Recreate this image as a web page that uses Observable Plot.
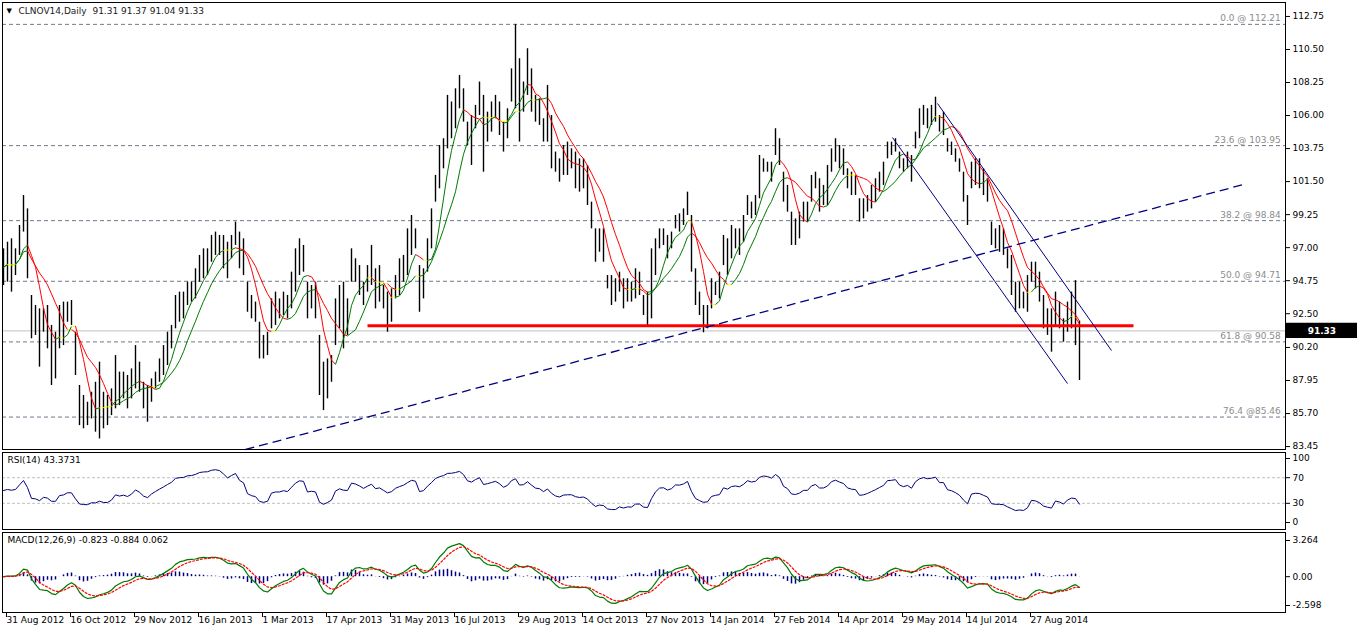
<!DOCTYPE html>
<html><head><meta charset="utf-8">
<script src="https://cdn.jsdelivr.net/npm/d3@7"></script>
<script src="https://cdn.jsdelivr.net/npm/@observablehq/plot@0.6"></script>
<style>
body{margin:0;background:#fff;}
#wrap{position:relative;width:1362px;height:630px;overflow:hidden;background:#fff;}
#wrap svg{position:absolute;left:0;overflow:visible;}
</style></head><body><div id="wrap"></div>
<script>
// Each bar = 2 trading days
const high=[96.92,97.37,97.60,96.92,98.51,100.55,99.64,93.74,93.06,92.83,92.83,93.06,91.70,91.24,93.06,93.29,93.29,93.40,91.24,87.61,
86.93,86.47,87.15,87.83,89.20,87.15,86.93,87.38,89.65,88.52,88.52,88.29,88.74,90.33,89.20,87.83,87.61,88.06,88.52,89.42,
90.33,91.24,91.70,93.74,93.97,93.97,94.65,94.65,95.56,96.47,96.92,96.92,97.83,98.06,97.83,97.83,97.37,97.83,98.74,98.06,
97.60,94.65,93.74,93.29,91.92,91.02,91.24,93.51,93.97,93.51,93.97,93.74,95.33,96.92,97.60,97.15,94.65,94.42,94.65,91.02,
89.20,89.42,89.65,93.51,94.42,94.65,93.51,96.92,96.24,95.78,94.65,95.78,97.15,95.56,95.78,94.42,93.97,94.19,95.10,96.24,
96.47,98.28,99.19,98.28,95.78,95.56,97.60,99.64,101.92,103.96,104.42,107.37,106.92,107.82,108.73,107.82,105.55,106.00,106.69,108.28,
107.37,106.23,106.92,107.37,106.92,105.55,106.46,109.18,112.21,109.87,108.28,110.55,109.18,107.37,107.14,105.78,108.05,106.00,103.51,103.05,
103.96,104.19,103.73,103.51,103.05,103.05,102.60,100.10,98.28,98.28,98.28,95.10,95.10,94.88,95.33,94.88,94.88,94.65,95.56,95.33,
93.74,93.97,96.92,97.60,98.28,98.28,97.83,98.06,99.19,99.30,99.64,100.78,99.19,95.56,93.97,93.06,93.06,94.88,94.65,95.33,
97.83,97.60,98.51,98.28,98.28,99.19,100.55,100.10,100.55,103.28,103.05,102.82,102.82,105.10,104.42,102.14,101.24,99.42,98.96,99.42,
100.10,100.10,101.92,102.14,101.69,101.24,102.60,103.73,104.42,103.96,103.73,102.37,102.14,101.92,100.33,100.33,100.55,101.24,101.69,102.14,
102.82,104.19,104.19,104.42,103.51,103.05,103.51,103.28,104.87,106.46,106.69,106.46,106.69,107.25,106.00,106.23,104.42,104.19,103.73,103.05,
102.14,100.55,102.82,103.05,103.05,102.37,101.69,98.74,98.28,98.51,98.28,96.92,96.47,94.65,94.65,93.97,95.10,96.01,96.01,95.33,
93.74,92.83,92.83,93.97,93.29,92.15,93.29,93.97,94.75,92.00];
const low=[94.42,94.65,93.97,95.10,96.47,98.06,94.88,90.79,91.02,88.86,91.24,90.11,87.61,88.06,90.11,90.33,91.92,91.70,88.29,84.88,
84.66,84.88,85.33,84.43,83.97,84.66,84.88,85.56,86.02,86.24,86.70,86.02,86.70,87.38,87.15,86.02,85.11,86.47,87.38,87.83,
88.29,88.97,90.11,91.47,91.92,92.15,93.06,93.29,93.51,94.65,94.88,95.10,96.01,96.47,96.47,95.56,94.88,96.24,97.15,95.56,
95.10,92.60,92.15,91.92,89.42,89.42,89.65,91.47,91.70,92.15,92.38,92.15,92.83,93.97,95.10,95.33,92.15,92.83,92.15,86.93,
85.90,86.70,87.83,90.33,91.47,90.11,91.02,94.65,94.65,93.74,93.06,93.97,94.42,92.83,93.29,92.83,91.24,91.92,93.51,93.74,
94.65,95.10,96.47,96.92,92.60,93.51,95.33,96.92,100.10,101.01,102.37,103.73,104.42,105.10,106.46,105.55,103.96,102.60,105.10,106.00,
102.14,104.19,104.87,105.78,104.64,103.51,104.42,106.92,106.46,104.19,106.23,107.37,106.23,105.55,105.33,104.19,104.19,102.37,102.14,101.46,
101.92,101.92,102.37,101.01,100.78,101.01,99.87,98.28,96.01,96.69,96.01,94.19,93.06,93.29,93.97,92.83,93.29,93.29,93.51,93.74,
92.38,91.58,92.15,95.10,96.92,97.15,96.24,96.92,98.28,98.06,98.51,99.19,95.33,93.06,92.38,91.20,91.47,92.83,93.74,93.51,
95.78,95.10,96.24,96.92,96.47,97.37,99.19,98.96,99.19,100.33,102.14,102.14,101.46,103.28,102.60,100.10,99.42,97.15,97.15,97.60,
98.74,98.74,100.10,101.01,99.42,99.87,99.87,102.14,102.82,102.37,101.92,101.01,100.55,100.55,98.74,98.96,99.42,99.64,100.10,100.78,
101.24,103.05,103.28,103.51,102.37,102.14,102.37,101.46,103.73,104.42,105.33,105.10,105.33,105.55,104.87,104.64,103.51,103.28,102.82,102.14,
100.10,98.51,101.01,101.24,101.01,100.55,100.10,97.15,96.92,96.69,96.47,95.56,93.74,92.60,92.83,92.83,92.60,94.65,94.19,93.29,
91.47,91.02,89.88,91.70,91.47,90.56,91.24,91.47,90.33,87.95];

const titleText="CLNOV14,Daily  91.31 91.37 91.04 91.33";
const rsiTitle="RSI(14) 43.3731";
const macdTitle="MACD(12,26,9) -0.823 -0.884 0.062";
const dateLabels=["31 Aug 2012","16 Oct 2012","29 Nov 2012","16 Jan 2013","1 Mar 2013","17 Apr 2013","31 May 2013","16 Jul 2013","29 Aug 2013","14 Oct 2013","27 Nov 2013","14 Jan 2014","27 Feb 2014","14 Apr 2014","29 May 2014","14 Jul 2014","27 Aug 2014"];
const dateTickBars=[0,16,32,48,64,80,96,112,128,144,160,176,192,208,224,240,256];
const priceTicks=[112.75,110.50,108.25,106.00,103.75,101.50,99.25,97.00,94.75,92.50,90.20,87.95,85.70,83.45];
const fibLevels=[112.21,103.95,98.84,94.71,90.58,85.46];
const fibLabels=["0.0 @ 112.21","23.6 @ 103.95","38.2 @ 98.84","50.0 @ 94.71","61.8 @ 90.58","76.4 @85.46"];
const lastPrice=91.33;
const supportLine=[{x1:91,x2:282.5,y:91.68}];
const dashedTrend=[{x1:60.5,y1:83.25,x2:310,y2:101.30}];
const channelLines=[{x1:222.25,y1:104.5,x2:266,y2:87.74},{x1:233.5,y1:106.82,x2:277,y2:89.99}];
const rsiTicks=[100,70,30,0];
const rsiLevels=[70,30];
const macdTicks=[3.264,0,-2.598];

const FONT="DejaVu Sans, sans-serif";
const W=1362, ML=2, MR=77;
const xOpt={domain:[-0.25,320.5]};
const bars=high.map((h,i)=>({i,h,l:low[i],m:(h+low[i])/2}));
const mid=bars.map(d=>d.m);

function sma(arr,n){return arr.map((_,i)=>d3.mean(arr.slice(Math.max(0,i-n+1),i+1)));}
function segs(ma,eps){const s=[];for(let i=0;i<ma.length-1;i++){const d=ma[i+1]-ma[i];s.push({x1:i,x2:i+1,y1:ma[i],y2:ma[i+1],c:d>eps?"#007a00":(d<-eps?"#ff0000":"#ffff00")});}return s;}
function ema(arr,n){const a=2/(n+1);const out=[];let e=arr[0];for(const v of arr){e=e+a*(v-e);out.push(e);}return out;}
function rsi(arr,n){
  const ch=arr.slice(1).map((v,i)=>Math.abs(v-arr[i]));
  let ag=d3.mean(ch)/2, al=ag; const out=[50];
  for(let i=1;i<arr.length;i++){const d=arr[i]-arr[i-1];const g=Math.max(d,0),l=Math.max(-d,0);
    ag=(ag*(n-1)+g)/n; al=(al*(n-1)+l)/n; out.push(100-100/(1+ag/al));}
  return out;
}

const maFast=segs(sma(mid,5),0.06), maSlow=segs(sma(mid,10),0.04);
const rsiVals=rsi(mid,12).map((v,i)=>({i,v}));
const e1=ema(mid,6), e2=ema(mid,13);
const macdMain=e1.map((v,i)=>v-e2[i]);
const macdSig=ema(macdMain,4.5);
const macdData=macdMain.map((v,i)=>({i,m:v,s:macdSig[i],h:v-macdSig[i]}));

const wrap=document.getElementById("wrap");
function place(svg,top){svg.style.top=top+"px";wrap.appendChild(svg);}

// main price panel
const main=Plot.plot({
  width:W,height:451,marginLeft:ML,marginRight:MR,marginTop:2,marginBottom:2,
  style:{fontFamily:FONT,fontSize:"9px",background:"white",color:"black"},
  x:{...xOpt,axis:null},
  y:{domain:[83.25,113.70],axis:null},
  color:{type:"identity"},
  marks:[
    Plot.ruleY(fibLevels,{stroke:"#6e7b8b",strokeDasharray:"4,3"}),
    Plot.ruleY([lastPrice],{stroke:"#c0c0c0"}),
    Plot.ruleX(bars,{x:"i",y1:"l",y2:"h",stroke:"black",strokeWidth:1.4}),
    Plot.link(maSlow,{x1:"x1",y1:"y1",x2:"x2",y2:"y2",stroke:"c",strokeWidth:1}),
    Plot.link(maFast,{x1:"x1",y1:"y1",x2:"x2",y2:"y2",stroke:"c",strokeWidth:1}),
    Plot.link(supportLine,{x1:"x1",x2:"x2",y1:"y",y2:"y",stroke:"#ff0000",strokeWidth:3}),
    Plot.link(dashedTrend,{x1:"x1",y1:"y1",x2:"x2",y2:"y2",stroke:"#000080",strokeWidth:1.3,strokeDasharray:"9,5"}),
    Plot.link(channelLines,{x1:"x1",y1:"y1",x2:"x2",y2:"y2",stroke:"#000080",strokeWidth:1}),
    Plot.text(fibLevels,{x:319.3,y:d=>d,text:(d,i)=>fibLabels[i],textAnchor:"end",dy:-6,fill:"#8c8c8c",fontSize:9}),
    Plot.axisY(priceTicks,{anchor:"right",label:null,tickFormat:d=>d.toFixed(2),tickSize:4,tickPadding:3,fontSize:9}),
    Plot.rect([lastPrice],{x1:320.75,x2:338.5,y1:d=>d-0.52,y2:d=>d+0.52,fill:"black"}),
    Plot.text([lastPrice],{x:329.6,y:d=>d,text:d=>d.toFixed(2),fill:"white",fontWeight:"bold",fontSize:9}),
    Plot.text([titleText],{frameAnchor:"top-left",dx:16,dy:5,textAnchor:"start",fontSize:9,fill:"#1a1a1a"}),
    Plot.text(["\u25BC"],{frameAnchor:"top-left",dx:4,dy:6,textAnchor:"start",fontSize:7,fill:"black"}),
    Plot.frame({stroke:"black"})
  ]
});
place(main,0);

// RSI panel
const rsiPlot=Plot.plot({
  width:W,height:80,marginLeft:ML,marginRight:MR,marginTop:1,marginBottom:2,
  style:{fontFamily:FONT,fontSize:"9px",background:"white",color:"black"},
  x:{...xOpt,axis:null},
  y:{domain:[-10.9,109.4],axis:null},
  marks:[
    Plot.ruleY(rsiLevels,{stroke:"#c0c0c0",strokeDasharray:"3,2"}),
    Plot.line(rsiVals,{x:"i",y:"v",stroke:"#000080",strokeWidth:1}),
    Plot.axisY(rsiTicks,{anchor:"right",label:null,tickSize:4,tickPadding:3,fontSize:9}),
    Plot.text([rsiTitle],{frameAnchor:"top-left",dx:5,dy:4,textAnchor:"start",fontSize:9}),
    Plot.frame({stroke:"black"})
  ]
});
place(rsiPlot,451);

// MACD panel
const macdPlot=Plot.plot({
  width:W,height:99,marginLeft:ML,marginRight:MR,marginTop:1,marginBottom:18,
  style:{fontFamily:FONT,fontSize:"9px",background:"white",color:"black"},
  x:{...xOpt,axis:null},
  y:{domain:[-3.229,3.985],axis:null},
  marks:[
    Plot.ruleX(macdData,{x:"i",y1:0,y2:"h",stroke:"#000080",strokeWidth:1.5,clip:true}),
    Plot.line(macdData,{x:"i",y:"m",stroke:"#007a00",strokeWidth:1.2,clip:true}),
    Plot.line(macdData,{x:"i",y:"s",stroke:"#ff0000",strokeWidth:1.2,strokeDasharray:"2,2",clip:true}),
    Plot.axisY(macdTicks,{anchor:"right",label:null,tickFormat:d=>d===0?"0.00":String(d),tickSize:4,tickPadding:3,fontSize:9}),
    Plot.axisX(dateTickBars,{anchor:"bottom",label:null,tickFormat:(d,i)=>dateLabels[i],textAnchor:"start",tickSize:5,tickPadding:-1,dx:3,fontSize:9}),
    Plot.text([macdTitle],{frameAnchor:"top-left",dx:5,dy:4,textAnchor:"start",fontSize:9}),
    Plot.frame({stroke:"black"})
  ]
});
place(macdPlot,531);
</script></body></html>
